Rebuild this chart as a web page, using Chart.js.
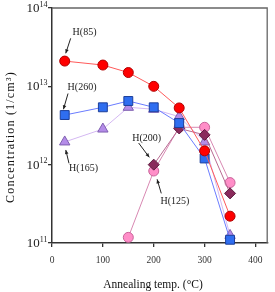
<!DOCTYPE html>
<html><head><meta charset="utf-8">
<script src="https://cdn.jsdelivr.net/npm/chart.js@4/dist/chart.umd.min.js"></script>
<style>html,body{margin:0;padding:0;background:#fff;}canvas{display:block;}</style>
</head><body>
<canvas id="c" width="275" height="292"></canvas>
<script>
// ---- data ----
const temps = [25, 100, 150, 200, 250, 300, 350];
const h85  = [2.1e13, 1.87e13, 1.5e13, 1.0e13, 5.3e12, 1.5e12, 2.2e11];
const h260 = [4.3e12, 5.4e12, 6.5e12, 5.4e12, 3.4e12, 1.2e12, 1.1e11];
const h165 = [1.95e12, 2.85e12, 5.4e12, 5.1e12, 4.1e12, 1.95e12, 1.25e11];
const h200 = [null, null, null, 1.0e12, 2.9e12, 2.4e12, 4.3e11];
const h125 = [null, null, 1.18e11, 8.3e11, 3.0e12, 3.0e12, 5.9e11];
const yTicks = [1e11, 1e12, 1e13, 1e14];
const xTicks = [0, 100, 200, 300, 400];
const labels = ['H(85)', 'H(260)', 'H(165)', 'H(200)', 'H(125)'];
// annotation anchors in data coordinates: text centre, arrow start, arrow tip
const annText  = [[64, 4.94e13], [59, 9.7e12], [62, 9.0e11], [186, 2.17e12], [241.5, 3.44e11]];
const annStart = [[36.7, 4.1e13], [31.5, 8.1e12], [33.4, 1.04e12], [170.3, 1.89e12], [214.8, 4.3e11]];
const annEnd   = [[27, 2.64e13], [22.5, 5.1e12], [27.1, 1.54e12], [191.3, 1.24e12], [206.6, 6.5e11]];

const pts = arr => temps.map((t, i) => ({x: t, y: arr[i]})).filter(p => p.y !== null);
const serif = '"Liberation Serif", "Times New Roman", serif';

function ds(label, arr, style, r, fill, stroke, line) {
  return {label, data: pts(arr), pointStyle: style, pointRadius: r, pointHoverRadius: r,
    backgroundColor: fill, pointBackgroundColor: fill, pointBorderColor: stroke, pointBorderWidth: 1,
    borderColor: line, borderWidth: 1, showLine: true, clip: false, tension: 0};
}

const overlay = {
  id: 'overlay',
  afterDraw(chart) {
    const ctx = chart.ctx, a = chart.chartArea, xs = chart.scales.x, ys = chart.scales.y;
    ctx.save();
    // frame top/right
    ctx.strokeStyle = '#666'; ctx.lineWidth = 1.3;
    ctx.beginPath();
    ctx.moveTo(a.left, a.top); ctx.lineTo(a.right - 0.5, a.top); ctx.lineTo(a.right - 0.5, a.bottom);
    ctx.stroke();
    // y tick labels 10^n
    ctx.fillStyle = '#222';
    yTicks.forEach(v => {
      const py = ys.getPixelForValue(v);
      const e = String(Math.round(Math.log10(v)));
      ctx.font = '8px ' + serif; ctx.textAlign = 'right'; ctx.textBaseline = 'middle';
      const ew = ctx.measureText(e).width;
      ctx.fillText(e, 47.5, py - 3.5);
      ctx.font = '13px ' + serif;
      ctx.fillText('10', 47.5 - ew, py + 0.5);
    });
    // annotations
    ctx.font = '10px ' + serif; ctx.textAlign = 'center'; ctx.textBaseline = 'middle';
    ctx.strokeStyle = '#222'; ctx.lineWidth = 1;
    labels.forEach((t, i) => {
      ctx.fillStyle = '#222';
      ctx.fillText(t, xs.getPixelForValue(annText[i][0]), ys.getPixelForValue(annText[i][1]));
      const x1 = xs.getPixelForValue(annStart[i][0]), y1 = ys.getPixelForValue(annStart[i][1]);
      const x2 = xs.getPixelForValue(annEnd[i][0]), y2 = ys.getPixelForValue(annEnd[i][1]);
      ctx.beginPath(); ctx.moveTo(x1, y1); ctx.lineTo(x2, y2); ctx.stroke();
      const ang = Math.atan2(y2 - y1, x2 - x1), L = 4, W = 1.8;
      ctx.beginPath();
      ctx.moveTo(x2, y2);
      ctx.lineTo(x2 - L * Math.cos(ang) + W * Math.sin(ang), y2 - L * Math.sin(ang) - W * Math.cos(ang));
      ctx.lineTo(x2 - L * Math.cos(ang) - W * Math.sin(ang), y2 - L * Math.sin(ang) + W * Math.cos(ang));
      ctx.closePath(); ctx.fill();
    });
    // axis titles
    ctx.fillStyle = '#111';
    ctx.font = '11.5px ' + serif; ctx.textAlign = 'center'; ctx.textBaseline = 'middle';
    ctx.fillText('Annealing temp. (°C)', 153, 285);
    ctx.translate(11, 137); ctx.rotate(-Math.PI / 2);
    ctx.font = '12px ' + serif;
    try { ctx.letterSpacing = '1.2px'; } catch (e) {}
    ctx.fillText('Concentration (1/cm³)', 0, 0);
    ctx.restore();
  }
};

new Chart(document.getElementById('c'), {
  type: 'scatter',
  data: { datasets: [
    ds('H(85)', h85, 'circle', 5, '#ff0000', '#b00000', '#ff5a5a'),
    ds('H(260)', h260, 'rect', 6.3, '#2f6ef0', '#1c3f9a', '#6a7cff'),
    ds('H(200)', h200, 'rectRot', 5.5, '#8a2a5c', '#5c1c3e', '#b86a92'),
    ds('H(125)', h125, 'circle', 5, '#ff8ec8', '#c8649a', '#d888b2'),
    ds('H(165)', h165, 'triangle', 6, '#b48ce8', '#7f5fb0', '#d4b8f2')
  ]},
  options: {
    responsive: false, animation: false, devicePixelRatio: 1,
    layout: { padding: { top: 8, right: 1, left: 0, bottom: 0 } },
    plugins: { legend: { display: false }, tooltip: { enabled: false } },
    scales: {
      x: {
        type: 'linear', min: 0, max: 424,
        afterFit: s => { s.height = 49; },
        afterBuildTicks: s => { s.ticks = xTicks.map(v => ({value: v})); },
        ticks: { font: { family: serif, size: 9.5 }, color: '#333', padding: 8, maxRotation: 0 },
        grid: { drawOnChartArea: false, drawTicks: true, tickLength: 4, color: '#333', lineWidth: 1.3 },
        border: { display: true, color: '#333', width: 1.5 }
      },
      y: {
        type: 'logarithmic', min: 1e11, max: 1e14,
        afterFit: s => { s.width = 52; },
        afterBuildTicks: s => { s.ticks = yTicks.map(v => ({value: v})); },
        ticks: { display: false },
        grid: { drawOnChartArea: false, drawTicks: true, tickLength: 4, color: '#333', lineWidth: 1.3 },
        border: { display: true, color: '#333', width: 1.5 }
      }
    }
  },
  plugins: [overlay]
});
</script>
</body></html>
